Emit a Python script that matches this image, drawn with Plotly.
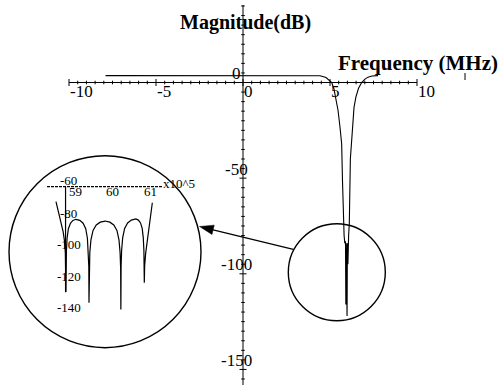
import plotly.graph_objects as go

# ---------------- frequency response, full span (MHz, dB) ----------------
freq_mhz = [-7.9, -4.0, 0.0, 2.0, 4.0, 4.43, 4.77, 4.94, 5.10, 5.23,
            5.34, 5.46, 5.57, 5.63, 5.67, 5.72, 5.76, 5.81, 5.85, 5.87,
            5.89, 5.91, 5.93, 5.95, 5.97, 5.98, 6.00, 6.03, 6.07, 6.11,
            6.17, 6.22, 6.25, 6.29, 6.38, 6.49, 6.64, 6.82, 7.01, 7.18,
            7.41, 7.76]
mag_db = [3.6, 3.6, 3.6, 3.6, 3.6, 3.5, 2.6, 1.5, 0.0, -3.5,
          -8.0, -14.5, -23.0, -28.0, -32.0, -52.0, -73.5, -80.0, -84.0, -110.0,
          -83.0, -116.0, -84.0, -118.0, -86.0, -122.0, -84.0, -95.0, -80.0, -73.5,
          -40.0, -33.0, -30.0, -22.0, -13.0, -7.5, -3.0, 0.0, 1.8, 2.8,
          3.4, 3.6]

# ---------------- stop-band detail (x10^5 Hz, dB) ----------------
zoom_freq = [58.680, 58.750, 58.820, 58.870, 58.910, 58.930, 58.945,
             58.949, 58.958, 58.976, 59.011, 59.065, 59.131, 59.210,
             59.315, 59.403, 59.473, 59.518, 59.543, 59.555, 59.560,
             59.566, 59.582, 59.612, 59.668, 59.754, 59.861, 59.990,
             60.116, 60.221, 60.305, 60.360, 60.389, 60.404, 60.410,
             60.416, 60.430, 60.458, 60.510, 60.590, 60.690, 60.810,
             60.877, 60.934, 60.979, 61.008, 61.024, 61.032, 61.035,
             61.045, 61.071, 61.124, 61.187, 61.249]
zoom_mag = [-69.5, -76.0, -83.0, -88.5, -95.0, -102.0, -126.9,
            -110.7, -100.7, -92.7, -86.7, -83.2, -81.4, -80.7,
            -81.4, -83.2, -86.7, -92.7, -100.7, -110.7, -133.6,
            -111.8, -101.8, -93.8, -87.8, -84.3, -82.5, -81.8,
            -82.5, -84.3, -87.8, -93.8, -101.8, -111.8, -137.9,
            -110.5, -100.5, -92.5, -86.5, -83.0, -81.2, -80.5,
            -81.2, -83.0, -86.5, -92.5, -100.5, -110.5, -121.0,
            -110.0, -102.3, -91.7, -81.1, -70.2]

# tick labels
main_xticks = [-10, -5, 0, 5, 10]
main_yticks = [0, -50, -100, -150]
zoom_xticks = [59, 60, 61]
zoom_yticks = [-60, -80, -100, -120, -140]

W, H = 500, 385
X_RANGE = [-13.966, 14.770]
Y_RANGE = [-158.13, 43.13]
X2_RANGE = [57.187, 70.520]
Y2_RANGE = [-185.90, 58.54]
KX = W / (X_RANGE[1] - X_RANGE[0])     # px per MHz
KY = H / (Y_RANGE[1] - Y_RANGE[0])     # px per dB
KX2 = W / (X2_RANGE[1] - X2_RANGE[0])
KY2 = H / (Y2_RANGE[1] - Y2_RANGE[0])

SERIF = "Liberation Serif, Times New Roman, serif"
INK = "black"

X_AXIS_SPAN = (-10, 10)
Y_AXIS_SPAN = (40.5, -160)
ZOOM_X_SPAN = (58.44, 61.53)
ZOOM_Y_AXIS_AT = 58.935
ZOOM_Y_SPAN = (-60, -127)

# highlight circles (data units of the main axes)
SMALL_CIRCLE = dict(x0=2.604, x1=8.178, y0=-124.51, y1=-73.81)
BIG_CIRCLE = dict(x0=-13.448, x1=-2.414, y0=-138.63, y1=-38.27)
ARROW_TIP = (-2.50, -75.27)
ARROW_TAIL = (2.891, -87.19)


def segments(pairs):
    xs, ys = [], []
    for (x0, y0), (x1, y1) in pairs:
        xs += [x0, x1, None]
        ys += [y0, y1, None]
    return xs, ys


fig = go.Figure()

# ---- main axes (crossing at the origin) with ticks ----
ax_pairs = [((X_AXIS_SPAN[0], 0), (X_AXIS_SPAN[1], 0)),
            ((0, Y_AXIS_SPAN[0]), (0, Y_AXIS_SPAN[1]))]
for i in range(41):
    xv = -10 + 0.5 * i
    half = (3.5 if xv % 5 == 0 else 1.8) / KY
    ax_pairs.append(((xv, -half), (xv, half)))
for i in range(41):
    yv = 40 - 5 * i
    half = (3.5 if yv % 50 == 0 else 1.8) / KX
    ax_pairs.append(((-half, yv), (half, yv)))
axx, axy = segments(ax_pairs)
fig.add_trace(go.Scatter(x=axx, y=axy, mode="lines",
                         line=dict(color=INK, width=1), hoverinfo="skip"))

# small stray mark right of the axis title
fig.add_trace(go.Scatter(x=[12.76, 12.76], y=[4.97, 1.31], mode="lines",
                         line=dict(color=INK, width=1), hoverinfo="skip"))

# ---- full-span response ----
fig.add_trace(go.Scatter(x=freq_mhz, y=mag_db, mode="lines",
                         line=dict(color=INK, width=1.1), hoverinfo="skip"))

# ---- inset axes ----
fig.add_trace(go.Scatter(x=list(ZOOM_X_SPAN), y=[-60, -60], mode="lines",
                         xaxis="x2", yaxis="y2",
                         line=dict(color=INK, width=1.3, dash="3px,1px"),
                         hoverinfo="skip"))
fig.add_trace(go.Scatter(x=[ZOOM_Y_AXIS_AT, ZOOM_Y_AXIS_AT], y=list(ZOOM_Y_SPAN),
                         mode="lines", xaxis="x2", yaxis="y2",
                         line=dict(color=INK, width=1.2), hoverinfo="skip"))

# ---- stop-band detail ----
fig.add_trace(go.Scatter(x=zoom_freq, y=zoom_mag, mode="lines",
                         xaxis="x2", yaxis="y2",
                         line=dict(color=INK, width=1.2), hoverinfo="skip"))

shapes = [
    dict(type="circle", xref="x", yref="y", line=dict(color=INK, width=1.4),
         **SMALL_CIRCLE),
    dict(type="circle", xref="x", yref="y", line=dict(color=INK, width=1.4),
         **BIG_CIRCLE),
]

# arrow from the small circle to the inset, with a slender filled head
tx, ty = ARROW_TIP
sx, sy = ARROW_TAIL
dxp, dyp = (sx - tx) * KX, -(sy - ty) * KY
norm = (dxp ** 2 + dyp ** 2) ** 0.5
ux, uy = dxp / norm, dyp / norm
head_len, head_half = 14.0, 4.8
bx, by = ux * head_len, uy * head_len
px_, py_ = -uy * head_half, ux * head_half
corner1 = (tx + (bx + px_) / KX, ty - (by + py_) / KY)
corner2 = (tx + (bx - px_) / KX, ty - (by - py_) / KY)
base = (tx + bx / KX, ty - by / KY)
fig.add_trace(go.Scatter(x=[base[0], sx], y=[base[1], sy], mode="lines",
                         line=dict(color=INK, width=1.2), hoverinfo="skip"))
shapes.append(dict(type="path", xref="x", yref="y",
                   path=f"M{tx},{ty} L{corner1[0]},{corner1[1]} "
                        f"L{corner2[0]},{corner2[1]} Z",
                   fillcolor=INK, line=dict(color=INK, width=0.5)))

# ---- text ----
annotations = []
for t in main_xticks:
    annotations.append(dict(x=t, y=0, xref="x", yref="y", text=f"{t}",
                            showarrow=False, xanchor="left", yanchor="middle",
                            xshift=-1, yshift=-9,
                            font=dict(family=SERIF, size=17, color=INK)))
for t in main_yticks:
    annotations.append(dict(x=0, y=t, xref="x", yref="y", text=f"{t}",
                            showarrow=False, xanchor="center", yanchor="middle",
                            xshift=-6.5, yshift=9,
                            font=dict(family=SERIF, size=17, color=INK)))
for t in zoom_xticks:
    annotations.append(dict(x=t, y=-60, xref="x2", yref="y2", text=f"{t}",
                            showarrow=False, xanchor="left", yanchor="middle",
                            xshift=-1, yshift=-5,
                            font=dict(family=SERIF, size=13, color=INK)))
for t in zoom_yticks:
    annotations.append(dict(x=ZOOM_Y_AXIS_AT, y=t, xref="x2", yref="y2",
                            text=f"{t}", showarrow=False, xanchor="center",
                            yanchor="middle", xshift=3,
                            yshift=6 if t == -60 else 5,
                            font=dict(family=SERIF, size=13, color=INK)))
annotations.append(dict(x=61.96, y=-57.65, xref="x2", yref="y2", text="x10^5",
                        showarrow=False, xanchor="center", yanchor="middle",
                        font=dict(family=SERIF, size=13, color=INK)))
annotations.append(dict(x=0.49, y=1 - 22 / 385, xref="paper", yref="paper",
                        text="<b>Magnitude(dB)</b>", showarrow=False,
                        xanchor="center", yanchor="middle",
                        font=dict(family=SERIF, size=20, color=INK)))
annotations.append(dict(x=418 / 500, y=1 - 63 / 385, xref="paper", yref="paper",
                        text="<b>Frequency (MHz)</b>", showarrow=False,
                        xanchor="center", yanchor="middle",
                        font=dict(family=SERIF, size=21, color=INK)))

fig.update_layout(
    width=W, height=H,
    margin=dict(l=0, r=0, t=0, b=0),
    paper_bgcolor="white", plot_bgcolor="white",
    showlegend=False,
    xaxis=dict(range=X_RANGE, visible=False, domain=[0, 1]),
    yaxis=dict(range=Y_RANGE, visible=False, domain=[0, 1]),
    xaxis2=dict(range=X2_RANGE, visible=False, overlaying="x", domain=[0, 1]),
    yaxis2=dict(range=Y2_RANGE, visible=False, overlaying="y", domain=[0, 1]),
    shapes=shapes,
    annotations=annotations,
)

fig.write_html("out.html")
